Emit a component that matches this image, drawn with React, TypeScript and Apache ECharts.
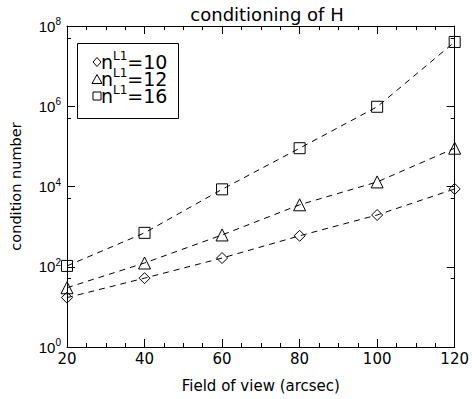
import React, { useEffect, useRef } from "react";
import * as echarts from "echarts";

const fieldOfView = [20, 40, 60, 80, 100, 120];
const cond10 = [17, 52, 165, 590, 1950, 8700];
const cond12 = [30, 124, 620, 3500, 13000, 90000];
const cond16 = [105, 700, 8500, 90000, 970000, 40000000];
const seriesNames = ["n_L1=10", "n_L1=12", "n_L1=16"];
const legendLabels = ["n{sup|L1}=10", "n{sup|L1}=12", "n{sup|L1}=16"];
const symbols = ["diamond", "triangle", "rect"];
const symbolSizes = [11, 12, 11];

const FONT = "DejaVu Sans, Liberation Sans, sans-serif";
const TICKFONT = "Liberation Sans, Arial, sans-serif";

export default function App() {
  const ref = useRef<HTMLDivElement>(null);
  useEffect(() => {
    document.body.style.margin = "0";
    if (!ref.current) return;
    const chart = echarts.init(ref.current, null, { renderer: "svg" });
    const datasets = [cond10, cond12, cond16];
    const hollow = { color: "rgba(0,0,0,0)", borderColor: "#000", borderWidth: 1 };
    const tickStyle = { color: "#000", width: 1 };
    const stroke = { fill: "none", stroke: "#000", lineWidth: 1 };

    // legend (drawn as graphic to mimic the tight boxed legend)
    const lx = 97;
    const rows = [62, 79, 96];
    const legendItems: any[] = [
      { type: "rect", shape: { x: 77.5, y: 43.5, width: 101, height: 75 }, style: stroke },
      {
        type: "polygon",
        shape: { points: [[lx, rows[0] - 4.5], [lx + 4, rows[0]], [lx, rows[0] + 4.5], [lx - 4, rows[0]]] },
        style: stroke,
      },
      {
        type: "polygon",
        shape: { points: [[lx, rows[1] - 4.5], [lx + 5, rows[1] + 4.5], [lx - 5, rows[1] + 4.5]] },
        style: stroke,
      },
      { type: "rect", shape: { x: lx - 4, y: rows[2] - 4, width: 8, height: 8 }, style: stroke },
    ];
    legendLabels.forEach((t, i) => {
      legendItems.push({
        type: "text",
        x: 101,
        y: rows[i],
        style: {
          text: t,
          fill: "#000",
          fontFamily: FONT,
          fontSize: 19,
          verticalAlign: "middle",
          rich: { sup: { fontFamily: FONT, fontSize: 12, fill: "#000", padding: [0, 0, 12, 0] } },
        },
      });
    });

    chart.setOption({
      animation: false,
      backgroundColor: "#fff",
      title: {
        text: "conditioning of H",
        left: 262,
        textAlign: "center",
        top: 0,
        textStyle: { fontFamily: FONT, fontSize: 18, fontWeight: "normal", color: "#000" },
      },
      grid: { left: 66, right: 13, top: 26, bottom: 52, containLabel: false },
      xAxis: [
        {
          type: "value",
          min: 20,
          max: 120,
          interval: 20,
          name: "Field of view (arcsec)",
          nameLocation: "middle",
          nameGap: 31,
          nameTextStyle: { fontFamily: FONT, fontSize: 15, color: "#000" },
          axisLine: { show: true, lineStyle: { color: "#000" } },
          axisTick: { inside: true, length: 8, lineStyle: tickStyle },
          minorTick: { show: true, splitNumber: 4, length: 4, lineStyle: tickStyle },
          splitLine: { show: false },
          axisLabel: { fontFamily: FONT, fontSize: 15, color: "#000", margin: 4 },
        },
        {
          type: "value",
          position: "top",
          min: 20,
          max: 120,
          interval: 20,
          axisLine: { show: true, lineStyle: { color: "#000" } },
          axisTick: { inside: true, length: 8, lineStyle: tickStyle },
          minorTick: { show: true, splitNumber: 4, length: 4, lineStyle: tickStyle },
          splitLine: { show: false },
          axisLabel: { show: false },
        },
      ],
      yAxis: [
        {
          type: "log",
          logBase: 10,
          min: 1,
          max: 1e8,
          interval: 2,
          name: "condition number",
          nameLocation: "middle",
          nameGap: 44,
          nameTextStyle: { fontFamily: FONT, fontSize: 14.5, color: "#000" },
          axisLine: { show: true, lineStyle: { color: "#000" } },
          axisTick: { inside: true, length: 8, lineStyle: tickStyle },
          minorTick: { show: true, splitNumber: 2, length: 4, lineStyle: tickStyle },
          splitLine: { show: false },
          axisLabel: {
            fontFamily: TICKFONT,
            fontSize: 15,
            color: "#000",
            margin: 6,
            formatter: (v: number) => `10{sup|${Math.round(Math.log10(v))}}`,
            rich: { sup: { fontFamily: TICKFONT, fontSize: 10, color: "#000", padding: [0, 0, 9, 0] } },
          },
        },
        {
          type: "log",
          logBase: 10,
          position: "right",
          min: 1,
          max: 1e8,
          interval: 2,
          axisLine: { show: true, lineStyle: { color: "#000" } },
          axisTick: { inside: true, length: 8, lineStyle: tickStyle },
          minorTick: { show: true, splitNumber: 2, length: 4, lineStyle: tickStyle },
          splitLine: { show: false },
          axisLabel: { show: false },
        },
      ],
      graphic: legendItems,
      series: datasets.map((d, i) => ({
        name: seriesNames[i],
        type: "line",
        xAxisIndex: 0,
        yAxisIndex: 0,
        data: fieldOfView.map((x, j) => [x, d[j]]),
        symbol: symbols[i],
        symbolSize: symbolSizes[i],
        showAllSymbol: true,
        itemStyle: hollow,
        lineStyle: { color: "#000", width: 1, type: [6, 5] },
        clip: false,
        z: 3,
      })),
    });
    return () => chart.dispose();
  }, []);
  return <div ref={ref} style={{ width: 472, height: 399 }} />;
}
